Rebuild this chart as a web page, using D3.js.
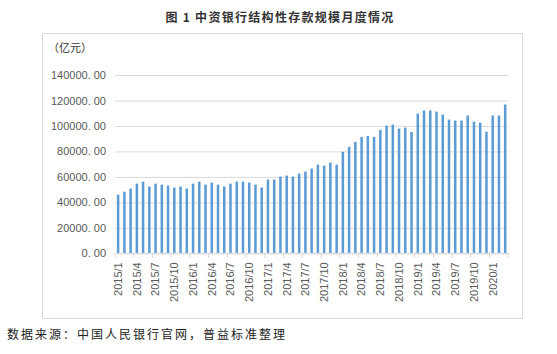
<!DOCTYPE html>
<html>
<head>
<meta charset="utf-8">
<script src="https://cdn.jsdelivr.net/npm/d3@7"></script>
<style>
  body { margin: 0; background: #fff; }
  svg { display: block; }
</style>
</head>
<body>
<div id="chart"></div>
<script>
// months 2015/1 .. 2020/3
const months = [
    "2015/1","2015/2","2015/3","2015/4","2015/5","2015/6","2015/7","2015/8","2015/9","2015/10","2015/11","2015/12",
    "2016/1","2016/2","2016/3","2016/4","2016/5","2016/6","2016/7","2016/8","2016/9","2016/10","2016/11","2016/12",
    "2017/1","2017/2","2017/3","2017/4","2017/5","2017/6","2017/7","2017/8","2017/9","2017/10","2017/11","2017/12",
    "2018/1","2018/2","2018/3","2018/4","2018/5","2018/6","2018/7","2018/8","2018/9","2018/10","2018/11","2018/12",
    "2019/1","2019/2","2019/3","2019/4","2019/5","2019/6","2019/7","2019/8","2019/9","2019/10","2019/11","2019/12",
    "2020/1","2020/2","2020/3"
];

// 结构性存款规模（亿元）
const deposits = [
    46050, 48400, 50800, 54700, 56300, 52400, 54700, 53900, 53200, 51600, 52400, 50800,
    54700, 56300, 53900, 55500, 53900, 52400, 54700, 56300, 56300, 55500, 53900, 51700,
    57900, 57900, 60260, 61000, 60260, 62600, 64150, 66500, 69600, 68800, 71200, 69600,
    79700, 83600, 87500, 91400, 92200, 91400, 96900, 100300, 101000, 97900, 98700, 95300,
    109700, 112100, 112100, 111300, 108900, 105000, 104200, 104200, 108200, 103400, 102600, 95500,
    108200, 108200, 116800
];

const yTicks = [0, 20000, 40000, 60000, 80000, 100000, 120000, 140000];
const xLabels = months.filter((m, i) => i % 3 === 0);

const W = 557, H = 354;
const plotLeft = 115, plotRight = 508.3, plotTop = 75, plotBottom = 253.3;

const svg = d3.select("#chart").append("svg")
    .attr("width", W)
    .attr("height", H);

// outer frame
svg.append("rect")
    .attr("x", 42.5)
    .attr("y", 33.5)
    .attr("width", 480)
    .attr("height", 285)
    .attr("fill", "none")
    .attr("stroke", "#d9d9d9");

const x = d3.scaleBand()
    .domain(months)
    .range([plotLeft, plotRight])
    .paddingInner(0.6)
    .paddingOuter(0.3);

const y = d3.scaleLinear()
    .domain([0, 140000])
    .range([plotBottom, plotTop]);

// y axis with gridlines
const yAxis = svg.append("g")
    .attr("transform", `translate(${plotLeft},0)`)
    .call(d3.axisLeft(y)
        .tickValues(yTicks)
        .tickSize(-(plotRight - plotLeft))
        .tickPadding(9)
        .tickFormat(d => d3.format(".2f")(d).replace(".", ". ")));
yAxis.select(".domain").remove();
yAxis.selectAll(".tick line").attr("stroke", "#d9d9d9");
yAxis.selectAll("text")
    .attr("fill", "#595959")
    .style("font-family", "Liberation Sans, Arial, sans-serif")
    .style("font-size", "11px");

// bars
svg.selectAll("rect.bar")
    .data(months)
    .enter()
    .append("rect")
    .attr("class", "bar")
    .attr("x", (d, i) => x(d))
    .attr("y", (d, i) => y(deposits[i]))
    .attr("width", x.bandwidth())
    .attr("height", (d, i) => plotBottom - y(deposits[i]))
    .attr("fill", "#5b9bd5");

// category axis line
svg.append("line")
    .attr("x1", plotLeft)
    .attr("x2", plotRight)
    .attr("y1", plotBottom)
    .attr("y2", plotBottom)
    .attr("stroke", "#d9d9d9");

// tick marks on category boundaries every 3 months
const half = x.step() * x.paddingInner() / 2;
const boundaries = xLabels.map(m => x(m) - half).concat([plotRight]);
svg.selectAll("line.xtick")
    .data(boundaries)
    .enter()
    .append("line")
    .attr("class", "xtick")
    .attr("x1", d => d)
    .attr("x2", d => d)
    .attr("y1", plotBottom)
    .attr("y2", plotBottom + 4.5)
    .attr("stroke", "#d9d9d9");

// x labels
const xAxis = svg.append("g")
    .attr("transform", `translate(0,${plotBottom})`)
    .call(d3.axisBottom(x).tickValues(xLabels).tickSize(0));
xAxis.select(".domain").remove();
xAxis.selectAll("text")
    .attr("transform", "rotate(-90)")
    .attr("x", -9)
    .attr("y", 0)
    .attr("dy", "0.35em")
    .attr("text-anchor", "end")
    .attr("fill", "#595959")
    .style("font-family", "Liberation Sans, Arial, sans-serif")
    .style("font-size", "11px");

// Title
svg.append("text")
    .attr("x", 280)
    .attr("y", 22)
    .attr("text-anchor", "middle")
    .attr("fill", "#333")
    .style("font-family", "Noto Sans CJK SC, sans-serif")
    .style("font-size", "12px")
    .style("font-weight", "bold")
    .style("letter-spacing", "1.3px")
    .text("图 1 中资银行结构性存款规模月度情况");

// unit
svg.append("text")
    .attr("x", 48)
    .attr("y", 52)
    .attr("fill", "#333")
    .style("font-family", "Noto Sans CJK SC, sans-serif")
    .style("font-size", "11px")
    .text("（亿元）");

// source
svg.append("text")
    .attr("x", 7)
    .attr("y", 339)
    .attr("fill", "#222")
    .style("font-family", "Noto Sans CJK SC, sans-serif")
    .style("font-size", "12px")
    .style("letter-spacing", "2px")
    .text("数据来源：中国人民银行官网，普益标准整理");
</script>
</body>
</html>
